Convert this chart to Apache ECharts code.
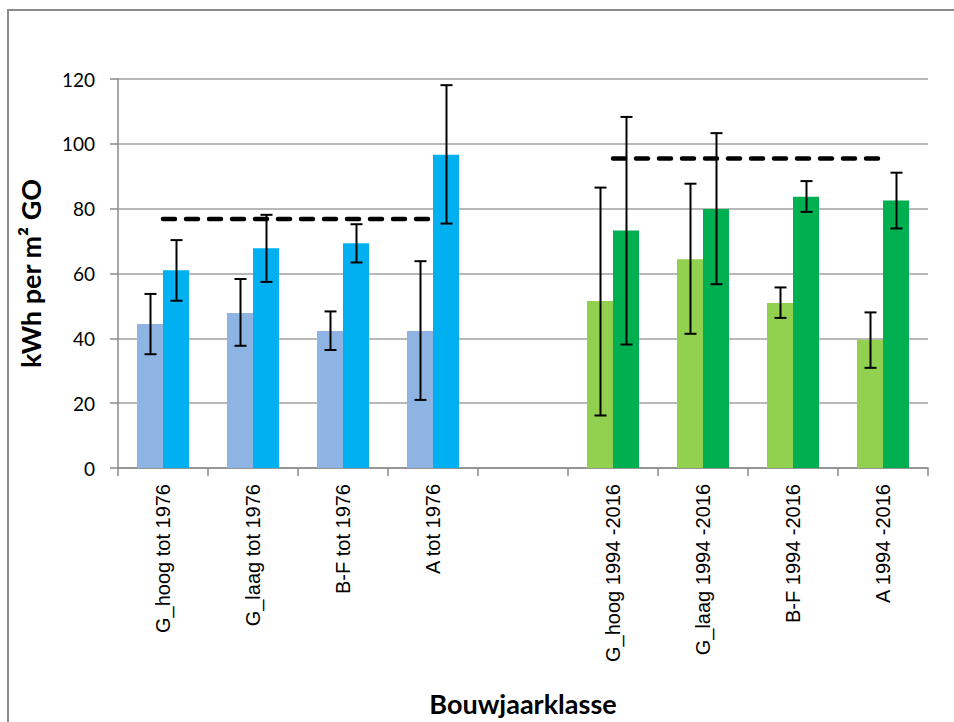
<!DOCTYPE html>
<html>
<head>
<meta charset="utf-8">
<script src="https://cdn.jsdelivr.net/npm/echarts@6/dist/echarts.min.js"></script>
<style>
  html, body { margin: 0; padding: 0; background: #ffffff; }
  #chart { width: 954px; height: 722px; }
</style>
</head>
<body>
<div id="chart"></div>
<script>
// Building classes (empty slot separates the two construction periods)
const categories = [
  'G_hoog tot 1976', 'G_laag tot 1976', 'B-F tot 1976', 'A tot 1976', '',
  'G_hoog 1994 -2016', 'G_laag 1994 -2016', 'B-F 1994 -2016', 'A 1994 -2016'
];

// Left bar of each class (kWh per m² GO)
const lightValues = [44.4, 47.8, 42.3, 42.3, null, 51.5, 64.4, 50.9, 39.6];
const lightLow    = [35.1, 37.7, 36.4, 21.0, null, 16.2, 41.4, 46.3, 30.9];
const lightHigh   = [53.7, 58.3, 48.3, 63.8, null, 86.5, 87.7, 55.7, 48.0];

// Right bar of each class
const darkValues = [61.0, 67.8, 69.3, 96.6, null, 73.3, 79.9, 83.7, 82.5];
const darkLow    = [51.6, 57.4, 63.4, 75.4, null, 38.1, 56.7, 79.0, 73.9];
const darkHigh   = [70.3, 78.1, 75.2, 118.1, null, 108.3, 103.3, 88.5, 91.1];

// Reference levels per period
const refOld = [76.8, 76.8, 76.8, 76.8, null, null, null, null, null];
const refNew = [null, null, null, null, null, 95.5, 95.5, 95.5, 95.5];

// Y axis ticks
const yMin = 0, yMax = 120, yStep = 20;

const oldPeriod = 4; // classes before this index belong to "tot 1976"
const colors = {
  lightOld: '#8EB4E3', darkOld: '#00B0F0',
  lightNew: '#92D050', darkNew: '#00B050'
};

const BAR_W = 26;

function barData(values, colOld, colNew) {
  return values.map((v, i) => ({
    value: v,
    itemStyle: { color: i < oldPeriod ? colOld : colNew }
  }));
}

function errData(low, high) {
  const out = [];
  low.forEach((l, i) => {
    if (l != null && high[i] != null) out.push([i, l, high[i]]);
  });
  return out;
}

function errorBarRenderer(offset) {
  return function (params, api) {
    const idx = api.value(0);
    const pLow = api.coord([idx, api.value(1)]);
    const pHigh = api.coord([idx, api.value(2)]);
    const x = Math.round(pLow[0] + offset) + 0.5;
    const cap = 6;
    const style = { stroke: '#000', lineWidth: 2, fill: null };
    return {
      type: 'group',
      children: [
        { type: 'line', shape: { x1: x, y1: pLow[1], x2: x, y2: pHigh[1] }, style },
        { type: 'line', shape: { x1: x - cap, y1: pLow[1], x2: x + cap, y2: pLow[1] }, style },
        { type: 'line', shape: { x1: x - cap, y1: pHigh[1], x2: x + cap, y2: pHigh[1] }, style }
      ]
    };
  };
}

const chart = echarts.init(document.getElementById('chart'), null, { renderer: 'svg' });

const refLine = (data) => ({
  type: 'line',
  data: data,
  symbol: 'none',
  silent: true,
  z: 5,
  lineStyle: { color: '#000', width: 4.5, type: [12, 11], cap: 'round' }
});

chart.setOption({
  animation: false,
  backgroundColor: '#ffffff',
  grid: { left: 118, right: 26, top: 79, bottom: 252, containLabel: false },
  xAxis: {
    type: 'category',
    data: categories,
    boundaryGap: true,
    axisLine: { lineStyle: { color: '#8a8a8a', width: 1.5 } },
    axisTick: { show: true, length: 8, lineStyle: { color: '#8a8a8a', width: 1.5 } },
    axisLabel: {
      interval: 0,
      rotate: 90,
      margin: 16,
      padding: [12, 0, 0, 0],
      color: '#000',
      fontFamily: 'Liberation Sans',
      fontSize: 20
    },
    name: 'Bouwjaarklasse',
    nameLocation: 'middle',
    nameGap: 222,
    nameTextStyle: {
      fontFamily: 'Lato',
      fontWeight: 'bold',
      fontSize: 27,
      color: '#000'
    }
  },
  yAxis: {
    type: 'value',
    min: yMin,
    max: yMax,
    interval: yStep,
    axisLine: { show: true, lineStyle: { color: '#8a8a8a', width: 1.5 } },
    axisTick: { show: true, length: 8, lineStyle: { color: '#8a8a8a', width: 1.5 } },
    splitLine: { lineStyle: { color: '#a0a0a0', width: 1.5 } },
    axisLabel: {
      margin: 23,
      color: '#000',
      fontFamily: 'Lato',
      fontSize: 19
    },
    name: 'kWh per m² GO',
    nameLocation: 'middle',
    nameGap: 74,
    nameTextStyle: {
      fontFamily: 'Lato',
      fontWeight: 'bold',
      fontSize: 27,
      color: '#000'
    }
  },
  series: [
    {
      type: 'bar',
      data: barData(lightValues, colors.lightOld, colors.lightNew),
      barWidth: BAR_W,
      barGap: '0%'
    },
    {
      type: 'bar',
      data: barData(darkValues, colors.darkOld, colors.darkNew),
      barWidth: BAR_W,
      barGap: '0%'
    },
    {
      type: 'custom',
      renderItem: errorBarRenderer(-BAR_W / 2),
      data: errData(lightLow, lightHigh),
      encode: { x: 0, y: [1, 2] },
      z: 4
    },
    {
      type: 'custom',
      renderItem: errorBarRenderer(BAR_W / 2),
      data: errData(darkLow, darkHigh),
      encode: { x: 0, y: [1, 2] },
      z: 4
    },
    refLine(refOld),
    refLine(refNew)
  ],
  graphic: [
    {
      type: 'rect',
      silent: true,
      shape: { x: 8, y: 10, width: 980, height: 740 },
      style: { fill: null, stroke: '#8c8c8c', lineWidth: 2 }
    }
  ]
});
</script>
</body>
</html>
